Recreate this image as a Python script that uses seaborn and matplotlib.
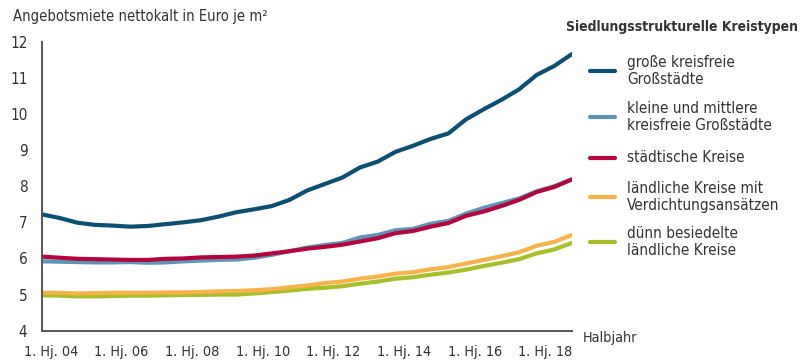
import numpy as np
import pandas as pd
import matplotlib
matplotlib.use("Agg")
import matplotlib.pyplot as plt
import seaborn as sns
from matplotlib.lines import Line2D

# half-years from 1. Hj. 04 to 1. Hj. 19
halbjahr = list(range(31))
tick_pos = [0, 4, 8, 12, 16, 20, 24, 28]
tick_labels = ["1. Hj. 04", "1. Hj. 06", "1. Hj. 08", "1. Hj. 10",
               "1. Hj. 12", "1. Hj. 14", "1. Hj. 16", "1. Hj. 18"]

grosse = [7.22, 7.12, 6.99, 6.93, 6.91, 6.88, 6.90, 6.95, 7.00, 7.06, 7.16,
          7.28, 7.36, 7.45, 7.62, 7.88, 8.06, 8.24, 8.52, 8.68, 8.95, 9.12,
          9.31, 9.46, 9.85, 10.13, 10.39, 10.68, 11.08, 11.33, 11.66]
kleine = [5.92, 5.91, 5.90, 5.89, 5.89, 5.90, 5.88, 5.89, 5.92, 5.94, 5.96,
          5.97, 6.02, 6.10, 6.20, 6.30, 6.37, 6.43, 6.58, 6.65, 6.78, 6.82,
          6.96, 7.04, 7.24, 7.40, 7.53, 7.66, 7.86, 8.00, 8.19]
staedtisch = [6.05, 6.02, 5.99, 5.98, 5.97, 5.96, 5.96, 5.99, 6.00, 6.03, 6.04,
              6.05, 6.08, 6.14, 6.20, 6.27, 6.32, 6.38, 6.47, 6.56, 6.70, 6.76,
              6.88, 6.98, 7.18, 7.30, 7.45, 7.62, 7.84, 7.98, 8.19]
laendlich = [5.05, 5.05, 5.03, 5.04, 5.05, 5.05, 5.05, 5.06, 5.06, 5.07, 5.09,
             5.10, 5.12, 5.15, 5.20, 5.25, 5.32, 5.36, 5.44, 5.50, 5.58, 5.62,
             5.70, 5.76, 5.86, 5.96, 6.06, 6.17, 6.35, 6.46, 6.65]
duenn = [4.98, 4.97, 4.95, 4.95, 4.96, 4.97, 4.97, 4.98, 4.99, 4.99, 5.00,
         5.00, 5.03, 5.07, 5.11, 5.16, 5.19, 5.23, 5.30, 5.36, 5.44, 5.48,
         5.55, 5.61, 5.69, 5.79, 5.88, 5.98, 6.14, 6.25, 6.43]

series_names = ["große kreisfreie\nGroßstädte",
                "kleine und mittlere\nkreisfreie Großstädte",
                "städtische Kreise",
                "ländliche Kreise mit\nVerdichtungsansätzen",
                "dünn besiedelte\nländliche Kreise"]
colors = ["#0b4f73", "#5d95b9", "#b3063f", "#f8b24a", "#a8be2a"]

# long-form table for seaborn
frames = []
for name, vals in zip(series_names, [grosse, kleine, staedtisch, laendlich, duenn]):
    frames.append(pd.DataFrame({"hj": halbjahr, "miete": vals, "typ": name}))
df = pd.concat(frames, ignore_index=True)

sns.set_style("white")
plt.rcParams['font.family'] = ['DejaVu Sans']
plt.rcParams['font.stretch'] = 'condensed'
txt = "#333333"
fs = 11
tfs = 10.4

fig = plt.figure(figsize=(8.09, 3.63), dpi=100)
ax = fig.add_axes([0.052, 0.089, 0.655, 0.796])

# draw lower series first so the upper ones sit on top
order = [4, 3, 1, 2, 0]
for k in order:
    sub = df[df["typ"] == series_names[k]]
    sns.lineplot(data=sub, x="hj", y="miete", color=colors[k], linewidth=3.0,
                 ax=ax, legend=False)

ax.set_xlim(0, 30)
ax.set_ylim(4, 12)
# tick marks at the years, labels centred on the first half-year
ax.set_xticks(tick_pos + [30])
ax.set_xticklabels([""] * (len(tick_pos) + 1))
ax.set_xticks([p + 0.5 for p in tick_pos], minor=True)
ax.set_xticklabels(tick_labels, minor=True)
ax.set_yticks(range(4, 13))
ax.set_xlabel("")
ax.set_ylabel("")
for s in ["top", "right"]:
    ax.spines[s].set_visible(False)
for s in ["left", "bottom"]:
    ax.spines[s].set_color("#555555")
    ax.spines[s].set_linewidth(1.4)
ax.tick_params(axis="both", colors="#555555", labelcolor=txt, labelsize=tfs,
               width=1.4, direction="out")
ax.tick_params(axis="x", which="major", length=8.5)
ax.tick_params(axis="x", which="minor", length=0, pad=10.5, labelsize=tfs,
               labelcolor=txt)
ax.tick_params(axis="y", length=6.5, pad=4, labelsize=11)

fig.text(13 / 809, 0.955, "Angebotsmiete nettokalt in Euro je m²", fontsize=10.6,
         color=txt, va="center", ha="left")
fig.text(583 / 809, 1 - 338 / 363, "Halbjahr", fontsize=tfs, color=txt,
         va="center", ha="left")

# legend drawn by hand
fig.text(566 / 809, 1 - 27 / 363, "Siedlungsstrukturelle Kreistypen", fontsize=10.0,
         fontweight="bold", color=txt, va="center", ha="left")
legend_y = [71, 117, 158, 197, 242]
for name, c, yy in zip(series_names, colors, legend_y):
    yf = 1 - yy / 363
    fig.add_artist(Line2D([590 / 809, 615 / 809], [yf, yf], color=c, linewidth=3.0,
                          transform=fig.transFigure, solid_capstyle="round"))
    fig.text(627 / 809, yf, name, fontsize=fs, color=txt, va="center",
             ha="left", linespacing=1.1)

fig.savefig("out.png", dpi=100)
